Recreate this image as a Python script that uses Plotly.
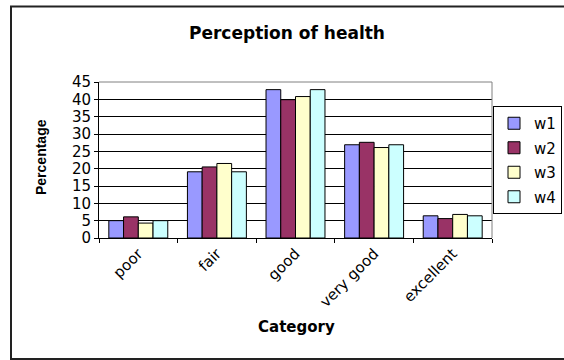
import plotly.graph_objects as go

categories = ["poor", "fair", "good", "very good", "excellent"]
w1 = [5.0, 19.1, 42.8, 26.9, 6.4]
w2 = [6.1, 20.5, 39.9, 27.6, 5.6]
w3 = [4.3, 21.5, 40.8, 26.1, 6.8]
w4 = [5.0, 19.1, 42.8, 26.9, 6.4]
series_names = ["w1", "w2", "w3", "w4"]
series_values = [w1, w2, w3, w4]
colors = ["#9999FF", "#993366", "#FFFFCC", "#CCFFFF"]
y_ticks = list(range(0, 50, 5))

WIDE = "DejaVu Sans, Verdana, sans-serif"
ARIAL = "Liberation Sans, Arial, sans-serif"

fig = go.Figure()
for name, vals, col in zip(series_names, series_values, colors):
    fig.add_trace(go.Bar(
        x=categories, y=vals, name=name, legendgroup=name,
        marker=dict(color=col, line=dict(color="black", width=1)),
    ))

# plot area in pixels: x 99..492, y 82..238
L, R, T, B = 99, 72, 82, 122
W, H = 564, 360
pw, ph = W - L - R, H - T - B


def px(x):
    return (x - L) / pw


def py(y):
    return (H - B - y) / ph


frame = dict(color="#222222", width=2)

fig.update_layout(
    width=W, height=H,
    margin=dict(l=L, r=R, t=T, b=B, autoexpand=False),
    paper_bgcolor="white", plot_bgcolor="white",
    barmode="group", bargap=0.25, bargroupgap=0,
    font=dict(family=WIDE, size=14, color="black"),
    showlegend=True,
    legend=dict(
        x=px(562), y=py(106), xanchor="right", yanchor="top",
        bordercolor="black", borderwidth=1, bgcolor="white",
        font=dict(size=15, family=WIDE), tracegroupgap=2,
        itemwidth=30,
    ),
    xaxis=dict(
        type="category", tickangle=-45, tickson="boundaries",
        ticks="outside", ticklen=4, tickcolor="black",
        showline=True, linecolor="black", linewidth=1,
        showgrid=False, tickfont=dict(size=15, family=WIDE),
    ),
    yaxis=dict(
        range=[0, 45], tickvals=y_ticks, ticks="outside", ticklen=4,
        tickcolor="black", showline=True, linecolor="black", linewidth=1,
        showgrid=True, gridcolor="black", gridwidth=1,
        tickfont=dict(size=15, family=WIDE), zeroline=False,
    ),
    annotations=[
        dict(text="<b>Perception of health</b>", xref="paper", yref="paper",
             x=px(287), y=py(33), showarrow=False,
             font=dict(size=17, family=WIDE),
             xanchor="center", yanchor="middle"),
        dict(text="<b>Category</b>", xref="paper", yref="paper",
             x=px(296), y=py(327), showarrow=False,
             font=dict(size=15, family=WIDE),
             xanchor="center", yanchor="middle"),
        dict(text="<b>Percentage</b>", xref="paper", yref="paper",
             x=px(41), y=py(157), showarrow=False,
             font=dict(size=14, family=ARIAL),
             textangle=-90, xanchor="center", yanchor="middle"),
    ],
    shapes=[
        # outer chart frame: left, top and bottom edges (right edge lies off-page)
        dict(type="line", xref="paper", yref="paper",
             x0=px(11), x1=px(11), y0=py(359), y1=py(6.5), line=frame),
        dict(type="line", xref="paper", yref="paper",
             x0=px(10), x1=px(600), y0=py(6.5), y1=py(6.5), line=frame),
        dict(type="line", xref="paper", yref="paper",
             x0=px(10), x1=px(600), y0=py(359), y1=py(359), line=frame),
        # plot area border (top and right)
        dict(type="line", xref="paper", yref="paper",
             x0=0, x1=1, y0=1, y1=1, line=dict(color="#808080", width=1)),
        dict(type="line", xref="paper", yref="paper",
             x0=1, x1=1, y0=0, y1=1, line=dict(color="#808080", width=1)),
    ],
)

fig.write_html(
    "out.html",
    config={"displayModeBar": False},
    post_script="document.documentElement.style.overflow='hidden';"
                "document.body.style.margin='0';",
)
